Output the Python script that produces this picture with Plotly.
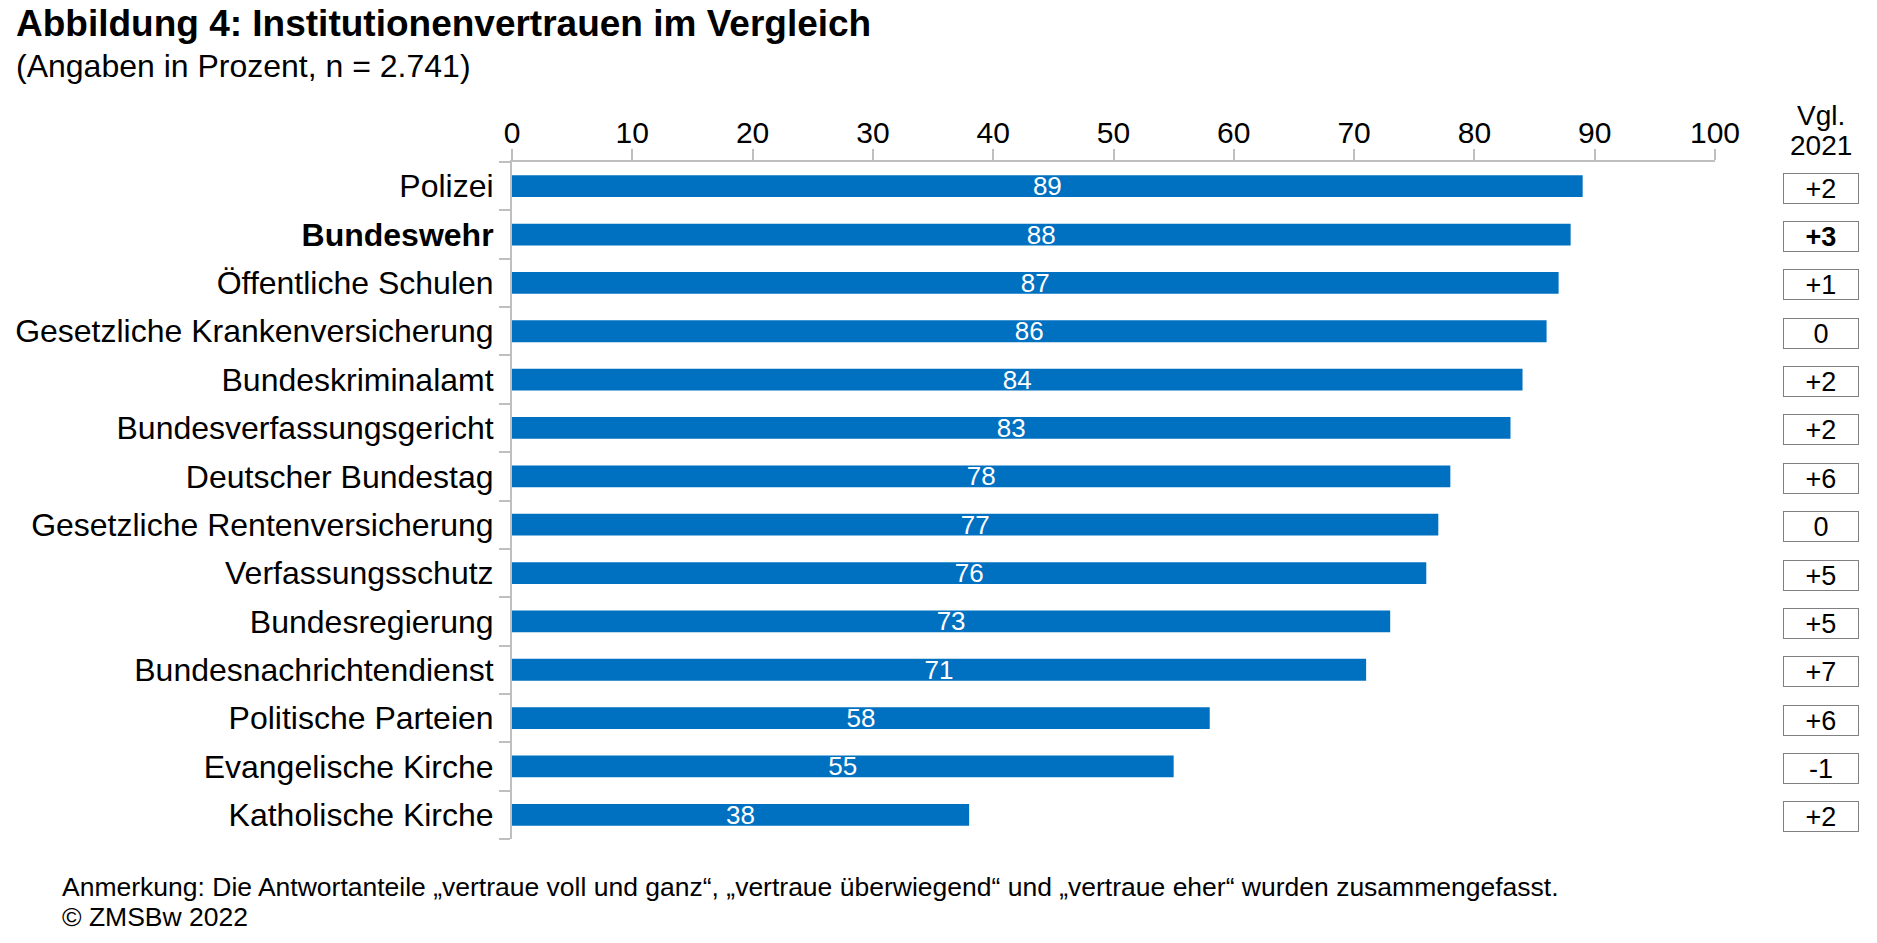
import plotly.graph_objects as go

categories = [
    "Polizei", "Bundeswehr", "Öffentliche Schulen", "Gesetzliche Krankenversicherung",
    "Bundeskriminalamt", "Bundesverfassungsgericht", "Deutscher Bundestag",
    "Gesetzliche Rentenversicherung", "Verfassungsschutz", "Bundesregierung",
    "Bundesnachrichtendienst", "Politische Parteien", "Evangelische Kirche", "Katholische Kirche",
]
values = [89, 88, 87, 86, 84, 83, 78, 77, 76, 73, 71, 58, 55, 38]
change_2021 = ["+2", "+3", "+1", "0", "+2", "+2", "+6", "0", "+5", "+5", "+7", "+6", "-1", "+2"]
highlight = "Bundeswehr"
x_ticks = list(range(0, 101, 10))

# page offset (body margin) compensation
OFF = 8
W, H = 1877 - OFF, 943 - OFF
L, R_EDGE, T, B_EDGE = 512 - OFF, 1715 - OFF, 162 - OFF, 839 - OFF
PW, PH = R_EDGE - L, B_EDGE - T

FONT = "Liberation Sans, Arial, sans-serif"
BLUE = "#0070C0"
GREY = "#bfbfbf"


def px(sx):
    return (sx - OFF - L) / PW


def py(sy):
    return 1 - (sy - OFF - T) / PH


def bold_if(c, s):
    return f"<b>{s}</b>" if c == highlight else s


fig = go.Figure()
fig.add_trace(go.Bar(
    y=categories, x=values, orientation="h",
    marker=dict(color=BLUE, line=dict(width=0)),
    width=0.45,
    text=[str(v) for v in values],
    textposition="inside", insidetextanchor="middle", textangle=0,
    constraintext="none",
    textfont=dict(family=FONT, size=26, color="white"),
    hoverinfo="skip",
))

fig.update_layout(
    template="none",
    width=W, height=H,
    margin=dict(l=L, r=W - R_EDGE, t=T, b=H - B_EDGE, pad=0, autoexpand=False),
    paper_bgcolor="white", plot_bgcolor="white",
    showlegend=False,
    font=dict(family=FONT, color="black"),
)
fig.update_xaxes(
    automargin=False,
    side="top", range=[0, 100], tickvals=x_ticks,
    ticks="outside", ticklen=11, tickwidth=2, tickcolor=GREY,
    showline=True, linecolor=GREY, linewidth=2,
    showgrid=False, zeroline=False,
    tickfont=dict(family=FONT, size=30, color="black"),
    ticklabelstandoff=-6,
)
fig.update_yaxes(
    automargin=False,
    autorange="reversed",
    tickvals=categories, ticktext=[bold_if(c, c) for c in categories],
    tickson="boundaries", ticks="outside", ticklen=11, tickwidth=2, tickcolor=GREY,
    showline=True, linecolor=GREY, linewidth=2,
    showgrid=False, zeroline=False,
    tickfont=dict(family=FONT, size=32, color="black"),
    ticklabelstandoff=10,
)

ann = []
ann.append(dict(text="<b>Abbildung 4: Institutionenvertrauen im Vergleich</b>",
                xref="paper", yref="paper", x=px(14), xanchor="left",
                y=py(24), yanchor="middle", showarrow=False,
                font=dict(family=FONT, size=37, color="black")))
ann.append(dict(text="(Angaben in Prozent, n = 2.741)",
                xref="paper", yref="paper", x=px(14), xanchor="left",
                y=py(66), yanchor="middle", showarrow=False,
                font=dict(family=FONT, size=32, color="black")))
ann.append(dict(text="Anmerkung: Die Antwortanteile „vertraue voll und ganz“, „vertraue überwiegend“ und „vertraue eher“ wurden zusammengefasst.",
                xref="paper", yref="paper", x=px(60), xanchor="left",
                y=py(887), yanchor="middle", showarrow=False,
                font=dict(family=FONT, size=26.5, color="black")))
ann.append(dict(text="© ZMSBw 2022",
                xref="paper", yref="paper", x=px(60), xanchor="left",
                y=py(917), yanchor="middle", showarrow=False,
                font=dict(family=FONT, size=26.5, color="black")))
bx = px(1821)
ann.append(dict(text="Vgl.", xref="paper", yref="paper", x=bx, xanchor="center",
                y=py(116), yanchor="middle", showarrow=False,
                font=dict(family=FONT, size=28, color="black")))
ann.append(dict(text="2021", xref="paper", yref="paper", x=bx, xanchor="center",
                y=py(146), yanchor="middle", showarrow=False,
                font=dict(family=FONT, size=28, color="black")))
for c, d in zip(categories, change_2021):
    ann.append(dict(text=bold_if(c, d), xref="paper", yref="y", x=bx, y=c,
                    yshift=-2,
                    xanchor="center", yanchor="middle", showarrow=False,
                    width=72, height=27, borderpad=1, borderwidth=1,
                    bordercolor="#808080", bgcolor="white",
                    font=dict(family=FONT, size=27, color="black")))
fig.update_layout(annotations=ann)

fig.write_html("out.html")
